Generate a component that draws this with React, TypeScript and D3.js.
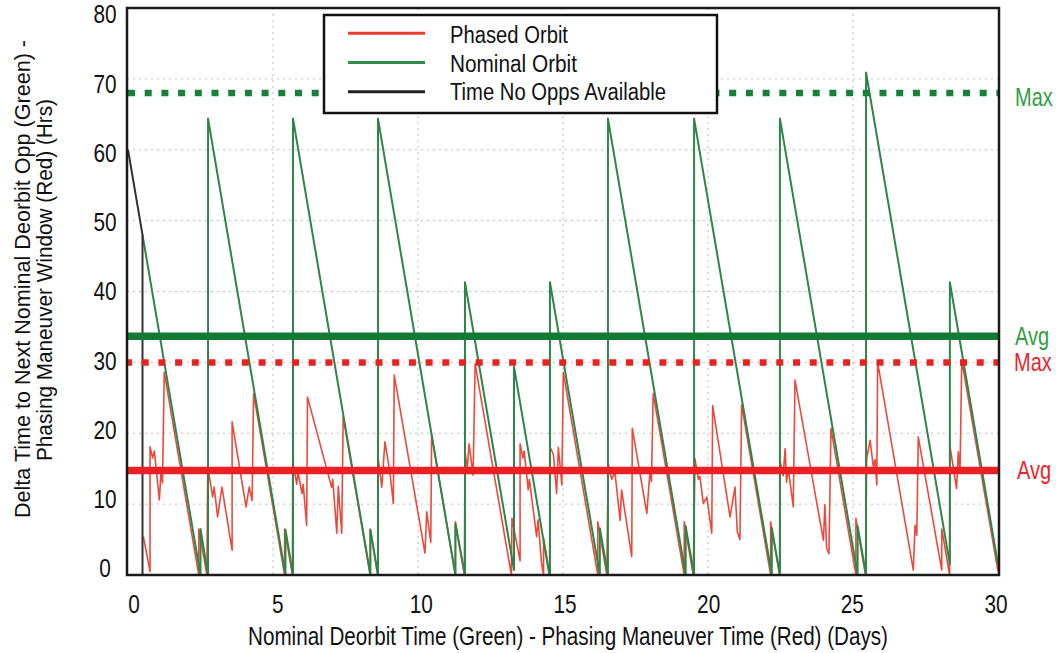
import React from "react";
import * as d3 from "d3";

// ---- data (days, hours) ----
const nominalOrbit: [number, number][] = [
  [0.5, 48], [2.5, 0], [2.5, 6.5], [2.76, 0], [2.76, 64.4], [5.43, 0], [5.43, 6.4], [5.69, 0],
  [5.69, 64.4], [8.36, 0], [8.36, 6.4], [8.62, 0], [8.62, 64.4], [11.29, 0], [11.29, 7.2], [11.62, 0],
  [11.62, 41.3], [13.31, 0.7], [13.31, 29.4], [14.53, 0], [14.55, 0], [14.55, 41.3], [16.27, 0],
  [16.27, 6.6], [16.55, 0], [16.55, 64.4], [19.23, 0], [19.23, 6.9], [19.52, 0], [19.52, 64.4],
  [22.2, 0], [22.2, 6.6], [22.48, 0], [22.48, 64.4], [25.16, 0], [25.16, 6.9], [25.45, 0],
  [25.45, 70.9], [28.34, 1.5], [28.34, 41.3], [30, 1.5],
];

const phasedOrbit: [number, number][] = [
  [0.53, 5.4], [0.76, 0.5], [0.76, 18.1], [0.85, 16.5], [0.91, 17.5], [1.08, 10.6], [1.14, 14.6], [1.19, 13.0],
  [1.25, 28.6], [2.44, 0], [2.44, 6.5], [2.72, 0],
  [2.75, 15.3], [2.92, 11.0], [2.97, 12.4], [3.09, 8.2], [3.24, 12.4], [3.59, 3.5], [3.59, 21.6], [4.07, 9.6],
  [4.18, 12.4], [4.28, 10.5], [4.33, 25.6], [5.4, 0], [5.4, 6.5], [5.67, 0],
  [5.68, 16.0], [5.82, 12.8], [5.86, 14.6], [6.0, 11.5], [6.04, 12.8], [6.16, 7.0], [6.19, 25.1], [7.02, 12.4],
  [7.06, 13.5], [7.2, 5.9], [7.25, 12.5], [7.37, 5.9], [7.42, 22.3], [8.35, 0], [8.35, 6.5], [8.61, 0],
  [8.63, 16.4], [8.75, 12.4], [8.86, 18.8], [9.03, 14.5], [9.15, 10.1], [9.18, 28.2], [10.24, 3.1], [10.3, 8.9],
  [10.44, 4.6], [10.47, 19.8], [11.29, 0], [11.29, 7.5], [11.6, 0],
  [11.62, 17.4], [11.7, 15.0], [11.76, 18.5], [11.9, 14.1], [11.97, 29.8], [13.22, 0], [13.24, 8.0], [13.52, 2.0],
  [13.52, 18.5], [13.62, 16.5], [13.66, 17.5], [13.8, 12.0], [13.84, 13.5], [14.09, 5.4], [14.14, 7.8], [14.26, 1.7],
  [14.33, 0], [14.33, 5.2], [14.54, 0],
  [14.55, 18.1], [14.67, 17.0], [14.78, 11.5], [14.84, 18.0], [14.96, 12.7], [15.01, 28.6], [16.2, 0], [16.2, 7.5],
  [16.51, 0],
  [16.56, 15.7], [16.68, 13.5], [16.79, 14.5], [16.97, 7.7], [17.02, 12.0], [17.37, 2.6], [17.39, 20.7], [17.89, 8.7],
  [18.0, 14.6], [18.05, 13.2], [18.11, 25.6], [19.18, 0], [19.18, 7.5], [19.49, 0],
  [19.55, 16.4], [19.67, 13.5], [19.72, 13.9], [19.84, 10.1], [19.96, 11.0], [20.13, 5.9], [20.16, 23.9], [20.76, 8.2],
  [20.93, 12.4], [21.01, 6.1], [21.1, 5.0], [21.16, 24.0], [22.16, 0], [22.16, 7.5], [22.47, 0],
  [22.48, 16.2], [22.59, 14.0], [22.66, 17.8], [22.71, 13.1], [22.77, 15.0], [22.94, 9.6], [23.0, 27.5], [23.98, 4.9],
  [24.03, 9.9], [24.09, 3.8], [24.17, 3.0], [24.24, 20.7], [25.1, 0], [25.1, 8.0], [25.43, 0],
  [25.47, 16.4], [25.59, 19.0], [25.7, 15.3], [25.76, 16.3], [25.82, 12.7], [25.85, 30.0], [27.08, 0.7], [27.14, 7.0],
  [27.2, 5.6], [27.25, 19.5], [28.06, 0.7], [28.06, 6.5], [28.33, 0],
  [28.34, 18.3], [28.57, 12.2], [28.63, 17.4], [28.69, 14.5], [28.75, 30.3], [30, 0.5],
];

const noOpps: [number, number][] = [[0, 60], [0.5, 48], [0.5, 0]];

const xTicks = [0, 5, 10, 15, 20, 25, 30];
const yTicks = [0, 10, 20, 30, 40, 50, 60, 70, 80];

const refLines = [
  { label: "Max", value: 68, color: "#17803b", text: "#2f9e44", dotted: true, start: 128, lx: 1015, ly: 3.5 },
  { label: "Avg", value: 33.7, color: "#137a36", text: "#2f9e44", dotted: false, start: 127, lx: 1015, ly: 0 },
  { label: "Max", value: 30, color: "#e8231f", text: "#e8252a", dotted: true, start: 125, lx: 1014, ly: 0 },
  { label: "Avg", value: 14.75, color: "#ec1f24", text: "#e8252a", dotted: false, start: 127, lx: 1017, ly: 0 },
];

const legendItems = [
  { name: "Phased Orbit", color: "#f03a2e", width: 118 },
  { name: "Nominal Orbit", color: "#2e8b4a", width: 127 },
  { name: "Time No Opps Available", color: "#222222", width: 216 },
];

const FONT = "'Liberation Sans', Arial, Helvetica, sans-serif";

function CText(props: {
  x: number; y: number; fs: number; sx?: number; anchor?: string; fill?: string; rot?: number;
  children: React.ReactNode;
}) {
  const { x, y, fs, sx = 0.8, anchor = "start", fill = "#111", rot = 0, children } = props;
  return (
    <text transform={`translate(${x},${y}) rotate(${rot}) scale(${sx},1)`} textAnchor={anchor}
      fontSize={fs} fill={fill} dy="0.36em">{children}</text>
  );
}

export default function App() {
  const W = 1056, H = 653;
  const x = d3.scaleLinear().domain([0, 30]).range([128, 998]);
  const y = d3.scaleLinear().domain([0, 80]).range([575, 8]);
  const xLab = d3.scaleLinear().domain([0, 30]).range([134, 996]);
  const yLab = d3.scaleLinear().domain([0, 80]).range([568, 14]);
  const line = d3.line<[number, number]>().x((d) => x(d[0])).y((d) => y(d[1]));
  const left = 127, right = 999, top = 8, bottom = 575;

  return (
    <svg width={W} height={H} style={{ position: "absolute", left: 0, top: 0, background: "#fff" }}
      fontFamily={FONT}>
      <defs>
        <clipPath id="plot">
          <rect x={left} y={top} width={right - left} height={bottom - top} />
        </clipPath>
      </defs>
      {/* grid */}
      <g stroke="#bdbdbd" strokeWidth={1} strokeDasharray="2,4">
        {xTicks.slice(1, -1).map((t) => (
          <line key={"gx" + t} x1={x(t)} x2={x(t)} y1={top} y2={bottom} />
        ))}
        {yTicks.slice(1, -1).map((t) => (
          <line key={"gy" + t} x1={left} x2={right} y1={y(t)} y2={y(t)} />
        ))}
      </g>
      <g clipPath="url(#plot)">
        <path d={line(phasedOrbit) || ""} fill="none" stroke="#ea4a3c" strokeWidth={1.6} strokeLinejoin="round" />
        <path d={line(nominalOrbit) || ""} fill="none" stroke="#2f8549" strokeWidth={2} strokeLinejoin="round" />
        <path d={line(noOpps) || ""} fill="none" stroke="#333" strokeWidth={2} />
        {refLines.map((r, i) => (
          <line key={"r" + i} x1={r.start} x2={right}
            y1={y(r.value)} y2={y(r.value)} stroke={r.color}
            strokeWidth={r.dotted ? 6.5 : 7.5} strokeDasharray={r.dotted ? "7,9.7" : undefined} />
        ))}
      </g>
      {refLines.map((r, i) => (
        <CText key={"rl" + i} x={r.lx} y={y(r.value) + r.ly} fs={25} sx={0.8} fill={r.text}>{r.label}</CText>
      ))}
      {/* frame */}
      <rect x={left} y={top} width={right - left} height={bottom - top} fill="none" stroke="#1a1a1a" strokeWidth={2.5} />
      {/* legend */}
      <g>
        <rect x={324} y={15} width={393} height={98} fill="#fff" stroke="#111" strokeWidth={2.5} />
        {legendItems.map((l, i) => (
          <g key={l.name}>
            <line x1={348} x2={425} y1={33.3 + i * 29.2} y2={33.3 + i * 29.2} stroke={l.color} strokeWidth={3} />
            <text x={450} y={35 + i * 28.4} dy="0.36em" fontSize={23} fill="#111"
              textLength={l.width} lengthAdjust="spacingAndGlyphs">{l.name}</text>
          </g>
        ))}
      </g>
      {/* tick labels */}
      {xTicks.map((t) => (
        <CText key={"xl" + t} x={xLab(t)} y={604} fs={26} sx={0.8} anchor="middle">{t}</CText>
      ))}
      {yTicks.map((t) => (
        <CText key={"yl" + t} x={105} y={yLab(t)} fs={26} sx={0.8} anchor="middle">{t}</CText>
      ))}
      {/* titles */}
      <text x={568} y={636} dy="0.36em" textAnchor="middle" fontSize={25} fill="#111"
        textLength={640} lengthAdjust="spacingAndGlyphs">
        Nominal Deorbit Time (Green) - Phasing Maneuver Time (Red) (Days)
      </text>
      <text transform="translate(22,279) rotate(-90)" dy="0.36em" textAnchor="middle" fontSize={22} fill="#111"
        textLength={478} lengthAdjust="spacingAndGlyphs">
        Delta Time to Next Nominal Deorbit Opp (Green) -
      </text>
      <text transform="translate(44,280) rotate(-90)" dy="0.36em" textAnchor="middle" fontSize={22} fill="#111"
        textLength={362} lengthAdjust="spacingAndGlyphs">
        Phasing Maneuver Window (Red) (Hrs)
      </text>
    </svg>
  );
}
